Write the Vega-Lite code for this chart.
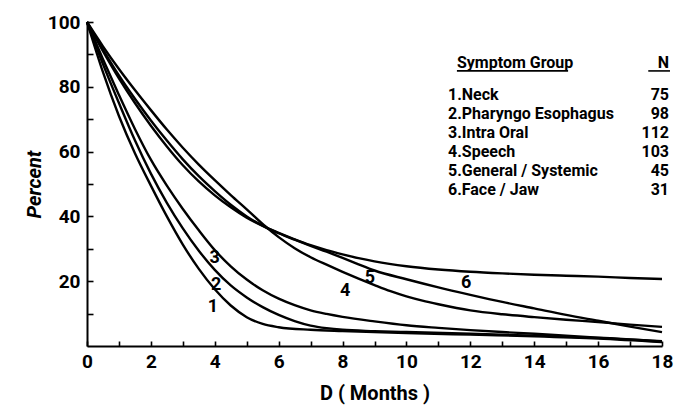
{
  "$schema": "https://vega.github.io/schema/vega-lite/v6.json",
  "width": 575,
  "height": 324,
  "autosize": {"type": "none"},
  "padding": {"left": 87, "top": 22, "right": 13, "bottom": 65},
  "background": "white",
  "config": {
    "view": {"stroke": null},
    "font": "Roboto",
    "axis": {"grid": false, "domainColor": "black", "domainWidth": 2, "tickColor": "black", "tickWidth": 1.6, "labelColor": "black", "titleColor": "black", "labelFont": "Roboto", "titleFont": "Roboto", "labelFontWeight": "bold", "titleFontWeight": "bold"}
  },
  "datasets": {
    "curves": [
      {"g": "1", "m": 0, "p": 100}, {"g": "1", "m": 0.5, "p": 84.5}, {"g": "1", "m": 1, "p": 71}, {"g": "1", "m": 1.5, "p": 59.5}, {"g": "1", "m": 2, "p": 49.5}, {"g": "1", "m": 2.5, "p": 40}, {"g": "1", "m": 3, "p": 31.3}, {"g": "1", "m": 3.5, "p": 23.8}, {"g": "1", "m": 4, "p": 17.5}, {"g": "1", "m": 4.5, "p": 12.5}, {"g": "1", "m": 5, "p": 8.9}, {"g": "1", "m": 5.5, "p": 6.8}, {"g": "1", "m": 6, "p": 5.8}, {"g": "1", "m": 7, "p": 5.0}, {"g": "1", "m": 8, "p": 4.6}, {"g": "1", "m": 10, "p": 4.0}, {"g": "1", "m": 12, "p": 3.5}, {"g": "1", "m": 14, "p": 3.0}, {"g": "1", "m": 16, "p": 2.3}, {"g": "1", "m": 18, "p": 1.2},
      {"g": "2", "m": 0, "p": 100}, {"g": "2", "m": 0.5, "p": 87}, {"g": "2", "m": 1, "p": 75}, {"g": "2", "m": 1.5, "p": 63.5}, {"g": "2", "m": 2, "p": 53.2}, {"g": "2", "m": 2.5, "p": 44.2}, {"g": "2", "m": 3, "p": 36.3}, {"g": "2", "m": 3.5, "p": 29.4}, {"g": "2", "m": 4, "p": 23.5}, {"g": "2", "m": 4.5, "p": 18.7}, {"g": "2", "m": 5, "p": 15}, {"g": "2", "m": 5.5, "p": 12}, {"g": "2", "m": 6, "p": 9.6}, {"g": "2", "m": 6.5, "p": 7.7}, {"g": "2", "m": 7, "p": 6.3}, {"g": "2", "m": 7.5, "p": 5.5}, {"g": "2", "m": 8, "p": 5.0}, {"g": "2", "m": 9, "p": 4.6}, {"g": "2", "m": 10, "p": 4.3}, {"g": "2", "m": 12, "p": 3.8}, {"g": "2", "m": 14, "p": 3.2}, {"g": "2", "m": 16, "p": 2.5}, {"g": "2", "m": 18, "p": 1.4},
      {"g": "3", "m": 0, "p": 100}, {"g": "3", "m": 0.5, "p": 88.5}, {"g": "3", "m": 1, "p": 77.5}, {"g": "3", "m": 1.5, "p": 67}, {"g": "3", "m": 2, "p": 57.5}, {"g": "3", "m": 2.5, "p": 49.5}, {"g": "3", "m": 3, "p": 42.3}, {"g": "3", "m": 3.5, "p": 35.7}, {"g": "3", "m": 4, "p": 29.6}, {"g": "3", "m": 4.5, "p": 24.6}, {"g": "3", "m": 5, "p": 20.5}, {"g": "3", "m": 5.5, "p": 17.2}, {"g": "3", "m": 6, "p": 14.6}, {"g": "3", "m": 6.5, "p": 12.6}, {"g": "3", "m": 7, "p": 11}, {"g": "3", "m": 7.5, "p": 9.9}, {"g": "3", "m": 8, "p": 9}, {"g": "3", "m": 9, "p": 7.6}, {"g": "3", "m": 10, "p": 6.4}, {"g": "3", "m": 11, "p": 5.6}, {"g": "3", "m": 12, "p": 4.9}, {"g": "3", "m": 13, "p": 4.3}, {"g": "3", "m": 14, "p": 3.8}, {"g": "3", "m": 15, "p": 3.2}, {"g": "3", "m": 16, "p": 2.6}, {"g": "3", "m": 17, "p": 2.0}, {"g": "3", "m": 18, "p": 1.5},
      {"g": "4", "m": 0, "p": 100}, {"g": "4", "m": 0.5, "p": 92.5}, {"g": "4", "m": 1, "p": 85.5}, {"g": "4", "m": 1.5, "p": 79}, {"g": "4", "m": 2, "p": 72.8}, {"g": "4", "m": 2.5, "p": 66.8}, {"g": "4", "m": 3, "p": 61.2}, {"g": "4", "m": 3.5, "p": 56}, {"g": "4", "m": 4, "p": 51.2}, {"g": "4", "m": 4.5, "p": 46.6}, {"g": "4", "m": 5, "p": 42.2}, {"g": "4", "m": 5.6, "p": 36.8}, {"g": "4", "m": 6, "p": 33.6}, {"g": "4", "m": 6.5, "p": 30.2}, {"g": "4", "m": 7, "p": 27.4}, {"g": "4", "m": 7.5, "p": 25.1}, {"g": "4", "m": 8, "p": 22.9}, {"g": "4", "m": 8.5, "p": 20.8}, {"g": "4", "m": 9, "p": 18.8}, {"g": "4", "m": 9.5, "p": 16.9}, {"g": "4", "m": 10, "p": 15.3}, {"g": "4", "m": 10.5, "p": 14}, {"g": "4", "m": 11, "p": 12.9}, {"g": "4", "m": 12, "p": 11}, {"g": "4", "m": 13, "p": 9.8}, {"g": "4", "m": 14, "p": 8.9}, {"g": "4", "m": 15, "p": 8.1}, {"g": "4", "m": 16, "p": 7.4}, {"g": "4", "m": 17, "p": 6.6}, {"g": "4", "m": 18, "p": 5.9},
      {"g": "5", "m": 0, "p": 100}, {"g": "5", "m": 0.5, "p": 91.5}, {"g": "5", "m": 1, "p": 83.5}, {"g": "5", "m": 1.5, "p": 76.3}, {"g": "5", "m": 2, "p": 69.6}, {"g": "5", "m": 2.5, "p": 63.4}, {"g": "5", "m": 3, "p": 57.6}, {"g": "5", "m": 3.5, "p": 52.4}, {"g": "5", "m": 4, "p": 47.8}, {"g": "5", "m": 4.5, "p": 43.6}, {"g": "5", "m": 5, "p": 40}, {"g": "5", "m": 5.6, "p": 36.6}, {"g": "5", "m": 6, "p": 34.8}, {"g": "5", "m": 6.5, "p": 32.8}, {"g": "5", "m": 7, "p": 30.9}, {"g": "5", "m": 7.5, "p": 29.1}, {"g": "5", "m": 8, "p": 27.2}, {"g": "5", "m": 8.5, "p": 25.2}, {"g": "5", "m": 9, "p": 23.3}, {"g": "5", "m": 10, "p": 20.6}, {"g": "5", "m": 11, "p": 18.1}, {"g": "5", "m": 12, "p": 15.8}, {"g": "5", "m": 13, "p": 13.6}, {"g": "5", "m": 14, "p": 11.6}, {"g": "5", "m": 15, "p": 9.6}, {"g": "5", "m": 16, "p": 7.8}, {"g": "5", "m": 17, "p": 6.0}, {"g": "5", "m": 18, "p": 4.3},
      {"g": "6", "m": 0, "p": 100}, {"g": "6", "m": 0.5, "p": 91}, {"g": "6", "m": 1, "p": 82.6}, {"g": "6", "m": 1.5, "p": 75}, {"g": "6", "m": 2, "p": 68}, {"g": "6", "m": 2.5, "p": 61.6}, {"g": "6", "m": 3, "p": 55.8}, {"g": "6", "m": 3.5, "p": 50.8}, {"g": "6", "m": 4, "p": 46.5}, {"g": "6", "m": 4.5, "p": 42.8}, {"g": "6", "m": 5, "p": 39.6}, {"g": "6", "m": 5.6, "p": 36.6}, {"g": "6", "m": 6, "p": 34.9}, {"g": "6", "m": 6.5, "p": 32.9}, {"g": "6", "m": 7, "p": 31.1}, {"g": "6", "m": 7.5, "p": 29.6}, {"g": "6", "m": 8, "p": 28.3}, {"g": "6", "m": 8.5, "p": 27.1}, {"g": "6", "m": 9, "p": 26.1}, {"g": "6", "m": 10, "p": 24.6}, {"g": "6", "m": 11, "p": 23.6}, {"g": "6", "m": 12, "p": 22.9}, {"g": "6", "m": 13, "p": 22.4}, {"g": "6", "m": 14, "p": 22.0}, {"g": "6", "m": 15, "p": 21.7}, {"g": "6", "m": 16, "p": 21.4}, {"g": "6", "m": 17, "p": 21.0}, {"g": "6", "m": 18, "p": 20.7}
    ],
    "curveLabels": [
      {"m": 3.94, "p": 12.0, "t": "1"},
      {"m": 4.04, "p": 18.8, "t": "2"},
      {"m": 4.0, "p": 27.2, "t": "3"},
      {"m": 8.08, "p": 17.0, "t": "4"},
      {"m": 8.86, "p": 21.0, "t": "5"},
      {"m": 11.87, "p": 19.4, "t": "6"}
    ],
    "legendLeft": [
      {"m": 11.58, "p": 87.3, "t": "Symptom Group"},
      {"m": 11.3, "p": 77.5, "t": "1.Neck"},
      {"m": 11.3, "p": 71.6, "t": "2.Pharyngo Esophagus"},
      {"m": 11.3, "p": 65.7, "t": "3.Intra Oral"},
      {"m": 11.3, "p": 59.9, "t": "4.Speech"},
      {"m": 11.3, "p": 54.0, "t": "5.General / Systemic"},
      {"m": 11.3, "p": 48.1, "t": "6.Face / Jaw"}
    ],
    "legendRight": [
      {"m": 18.22, "p": 87.3, "t": "N"},
      {"m": 18.22, "p": 77.5, "t": "75"},
      {"m": 18.22, "p": 71.6, "t": "98"},
      {"m": 18.22, "p": 65.7, "t": "112"},
      {"m": 18.22, "p": 59.9, "t": "103"},
      {"m": 18.22, "p": 54.0, "t": "45"},
      {"m": 18.22, "p": 48.1, "t": "31"}
    ],
    "underlines": [
      {"m": 11.58, "m2": 15.06, "p": 84.9},
      {"m": 17.57, "m2": 18.25, "p": 84.9}
    ]
  },
  "encoding": {
    "x": {
      "field": "m", "type": "quantitative",
      "scale": {"domain": [0, 18], "nice": false, "zero": false},
      "axis": {
        "title": "D ( Months )", "titleFontSize": 20, "titlePadding": 12,
        "values": [0,1,2,3,4,5,6,7,8,9,10,11,12,13,14,15,16,17,18],
        "labelExpr": "datum.value % 2 == 0 ? datum.label : ''",
        "labelFontSize": 19, "tickSize": -5, "labelPadding": 11, "labelFlush": false
      }
    },
    "y": {
      "field": "p", "type": "quantitative",
      "scale": {"domain": [0, 100], "nice": false},
      "axis": {
        "title": "Percent", "titleFontSize": 20, "titleFontStyle": "italic", "titlePadding": 3,
        "values": [10,20,30,40,50,60,70,80,90,100],
        "labelExpr": "datum.value % 20 == 0 ? datum.label : ''",
        "labelFontSize": 19, "tickSize": -6, "labelPadding": 13, "labelFlush": false
      }
    }
  },
  "layer": [
    {
      "data": {"name": "curves"},
      "mark": {"type": "line", "interpolate": "monotone", "color": "black", "strokeWidth": 2.4},
      "encoding": {"detail": {"field": "g"}}
    },
    {
      "data": {"name": "curveLabels"},
      "mark": {"type": "text", "fontSize": 18, "fontWeight": "bold", "color": "black", "align": "center", "baseline": "middle"},
      "encoding": {"text": {"field": "t"}}
    },
    {
      "data": {"name": "legendLeft"},
      "mark": {"type": "text", "fontSize": 16, "fontWeight": "bold", "color": "black", "align": "left", "baseline": "middle"},
      "encoding": {"text": {"field": "t"}}
    },
    {
      "data": {"name": "legendRight"},
      "mark": {"type": "text", "fontSize": 16, "fontWeight": "bold", "color": "black", "align": "right", "baseline": "middle"},
      "encoding": {"text": {"field": "t"}}
    },
    {
      "data": {"name": "underlines"},
      "mark": {"type": "rule", "color": "black", "strokeWidth": 1.6},
      "encoding": {"x2": {"field": "m2"}}
    }
  ]
}
